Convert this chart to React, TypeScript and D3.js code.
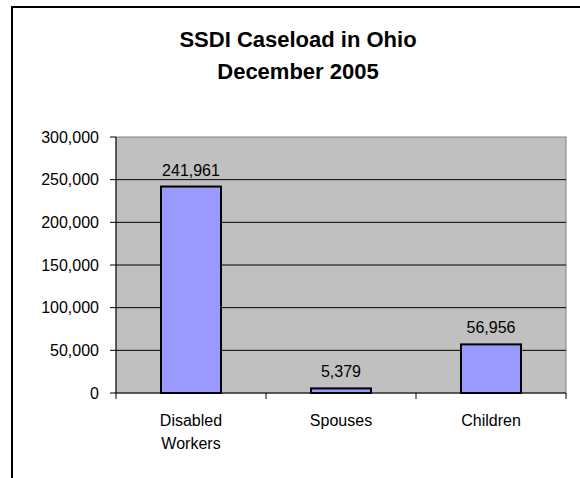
import React from "react";
import * as d3 from "d3";

const categories: string[][] = [["Disabled", "Workers"], ["Spouses"], ["Children"]];
const values: number[] = [241961, 5379, 56956];
const yTicks: number[] = [0, 50000, 100000, 150000, 200000, 250000, 300000];
const titleLines: string[] = ["SSDI Caseload in Ohio", "December 2005"];

const W = 580;
const H = 478;
const plot = { left: 116, right: 566, top: 137, bottom: 393 };
const FONT = "Arial, 'Liberation Sans', sans-serif";

export default function App() {
  const x = d3
    .scaleBand<number>()
    .domain(values.map((_, i) => i))
    .range([plot.left, plot.right])
    .paddingInner(0.6)
    .paddingOuter(0.3);
  const band = (plot.right - plot.left) / values.length;
  const y = d3.scaleLinear().domain([0, 300000]).range([plot.bottom, plot.top]);
  const fmt = d3.format(",");

  return (
    <svg
      width={W}
      height={H}
      style={{ position: "absolute", left: 0, top: 0, background: "#fff" }}
      fontFamily={FONT}
    >
      <rect x={12} y={7} width={640} height={540} fill="#fff" stroke="#000" strokeWidth={2} />
      {titleLines.map((t, i) => (
        <text key={t} x={298} y={47 + i * 32} textAnchor="middle" fontWeight="bold" fontSize={22} fill="#000">
          {t}
        </text>
      ))}
      <rect
        x={plot.left}
        y={plot.top}
        width={plot.right - plot.left}
        height={plot.bottom - plot.top}
        fill="#C0C0C0"
        stroke="#808080"
        strokeWidth={1}
      />
      {yTicks
        .filter((v) => v > 0 && v < 300000)
        .map((v) => (
          <line key={"g" + v} x1={plot.left} x2={plot.right} y1={y(v)} y2={y(v)} stroke="#000" strokeWidth={1} />
        ))}
      {values.map((v, i) => (
        <rect
          key={"b" + i}
          x={x(i)!}
          y={y(v)}
          width={x.bandwidth()}
          height={plot.bottom - y(v)}
          fill="#9999FF"
          stroke="#000"
          strokeWidth={2}
        />
      ))}
      {/* y axis */}
      <line x1={plot.left} x2={plot.left} y1={plot.top} y2={plot.bottom} stroke="#000" strokeWidth={1} />
      {yTicks.map((v) => (
        <g key={"t" + v}>
          <line x1={plot.left - 6} x2={plot.left} y1={y(v)} y2={y(v)} stroke="#000" strokeWidth={1} />
          <text x={99} y={y(v) + 5.5} textAnchor="end" fontSize={16} fill="#000">
            {fmt(v)}
          </text>
        </g>
      ))}
      {/* x axis */}
      <line x1={plot.left} x2={plot.right} y1={plot.bottom} y2={plot.bottom} stroke="#000" strokeWidth={1} />
      {d3.range(values.length + 1).map((i) => (
        <line
          key={"xt" + i}
          x1={plot.left + i * band}
          x2={plot.left + i * band}
          y1={plot.bottom}
          y2={plot.bottom + 6}
          stroke="#000"
          strokeWidth={1}
        />
      ))}
      {categories.map((lines, i) => (
        <text key={"c" + i} textAnchor="middle" fontSize={16} fill="#000">
          {lines.map((l, j) => (
            <tspan key={l} x={x(i)! + x.bandwidth() / 2} y={426 + j * 23}>
              {l}
            </tspan>
          ))}
        </text>
      ))}
      {values.map((v, i) => (
        <text key={"l" + i} x={x(i)! + x.bandwidth() / 2} y={y(v) - 11} textAnchor="middle" fontSize={16} fill="#000">
          {fmt(v)}
        </text>
      ))}
    </svg>
  );
}
